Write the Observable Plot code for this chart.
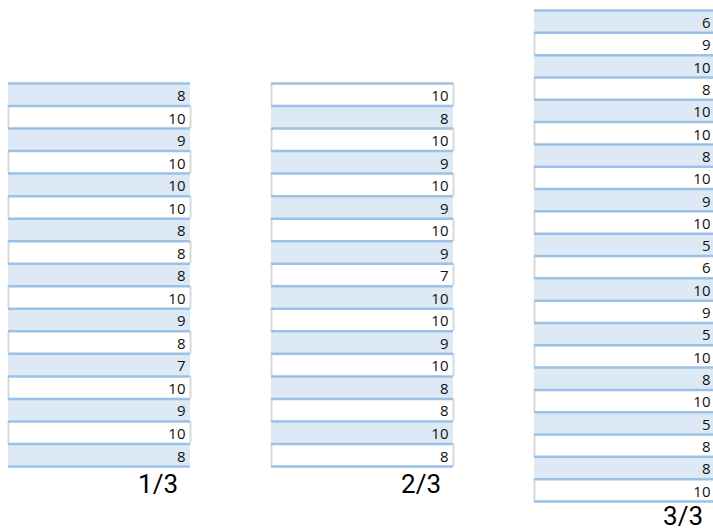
<!DOCTYPE html>
<html>
<head>
<meta charset="utf-8">
<script src="https://cdn.jsdelivr.net/npm/d3@7"></script>
<script src="https://cdn.jsdelivr.net/npm/@observablehq/plot@0.6"></script>
<style>
  html, body { margin: 0; padding: 0; background: #fff; }
  #wrap { position: relative; width: 713px; height: 532px; overflow: hidden; font-family: "Open Sans", sans-serif; }
  .tbl { position: absolute; }
  .lbl { position: absolute; font-family: Roboto, sans-serif; font-size: 26px; line-height: 30px; color: #000; white-space: nowrap; }
</style>
</head>
<body>
<div id="wrap"></div>
<script>
// Data
const col1 = [8,10,9,10,10,10,8,8,8,10,9,8,7,10,9,10,8];
const col2 = [10,8,10,9,10,9,10,9,7,10,10,9,10,8,8,10,8];
const col3 = [6,9,10,8,10,10,8,10,9,10,5,6,10,9,5,10,8,10,5,8,8,10];
const columns = [col1, col2, col3];
const labels = ["1/3", "2/3", "3/3"];
const firstShaded = [true, false, true];

// Layout (pixels)
const layout = [
  {left: 8,   top: 83, width: 182, height: 383},
  {left: 271, top: 83, width: 182, height: 383},
  {left: 534, top: 10, width: 181, height: 491}
];

const BLUE_FILL = "#ddeaf6";
const BLUE_LINE = "#9bc2e6";
const GRAY_LINE = "#d9d9d9";
const M = 2;

const wrap = document.getElementById("wrap");

columns.forEach((vals, ci) => {
  const L = layout[ci];
  const n = vals.length;
  const rows = vals.map((v, i) => ({i, v, shaded: (i % 2 === 0) === firstShaded[ci]}));
  const white = rows.filter(r => !r.shaded);

  const chart = Plot.plot({
    width: L.width + 2 * M,
    height: L.height + 2 * M,
    margin: M,
    x: {domain: [0, 1], axis: null},
    y: {domain: [0, n], reverse: true, axis: null},
    style: {fontFamily: "'Open Sans', sans-serif", background: "transparent"},
    marks: [
      Plot.rect(rows.filter(r => r.shaded), {x1: 0, x2: 1, y1: d => d.i, y2: d => d.i + 1, fill: BLUE_FILL}),
      Plot.ruleX(white, {x: 0, y1: d => d.i, y2: d => d.i + 1, stroke: GRAY_LINE, strokeWidth: 2}),
      Plot.ruleX(white, {x: 1, y1: d => d.i, y2: d => d.i + 1, stroke: GRAY_LINE, strokeWidth: 2}),
      Plot.ruleY(d3.range(n + 1), {y: d => d, x1: 0, x2: 1, stroke: BLUE_LINE, strokeWidth: 2.5}),
      Plot.text(rows, {x: 1, y: d => d.i + 0.5, text: d => String(d.v), textAnchor: "end", dx: -5, dy: 1.5, fontSize: 15, fill: "#111"})
    ]
  });
  chart.classList.add("tbl");
  chart.style.left = (L.left - M) + "px";
  chart.style.top = (L.top - M) + "px";
  wrap.appendChild(chart);

  const lbl = document.createElement("div");
  lbl.className = "lbl";
  lbl.textContent = labels[ci];
  const right = L.left + L.width - 12;
  lbl.style.right = (713 - right) + "px";
  lbl.style.top = Math.min(L.top + L.height + 3, 532 - 31) + "px";
  wrap.appendChild(lbl);
});
</script>
</body>
</html>
